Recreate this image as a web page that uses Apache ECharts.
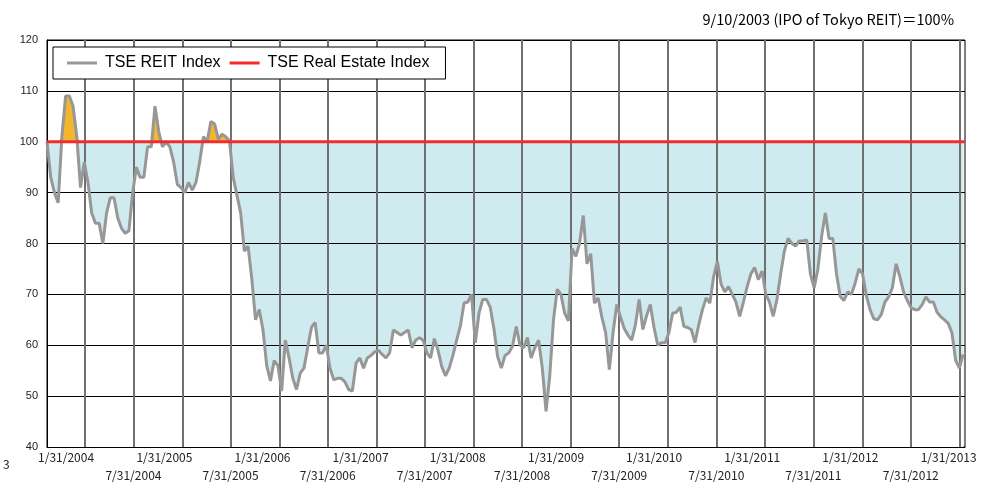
<!DOCTYPE html>
<html><head><meta charset="utf-8">
<script src="https://cdn.jsdelivr.net/npm/echarts@6/dist/echarts.min.js"></script>
<style>html,body{margin:0;padding:0;background:#fff}#c{width:1000px;height:483px}</style>
</head><body><div id="c"></div>
<script>
// IPO date (index base = 100) and sampling step of the series
const startDate = [2003, 9, 10];
const endDate = [2013, 2, 20];
const stepDays = 14;

// TSE REIT Index, fortnightly samples (9/10/2003 = 100)
const reitIndex = [
  100, 93, 90, 88, 101, 109, 109, 107, 101, 91,
  96, 92, 86, 84, 84, 80, 86, 89, 89, 85,
  83, 82, 82.5, 90, 95, 93, 93, 99, 99, 107,
  102, 99, 100, 99, 96, 91.6, 91, 90, 92, 90.5,
  92, 96, 101, 100, 104, 103.5, 100.5, 101.5, 101, 100.2,
  93, 89.5, 86, 78.5, 79.5, 73, 65, 67, 63, 56,
  53, 57, 56, 51, 61, 57.5, 53.5, 51.3, 54.5, 55.5,
  59.5, 63.5, 64.5, 58.5, 58.5, 60, 55.5, 53.2, 53.5, 53.5,
  52.8, 51.3, 51, 56.5, 57.5, 55.5, 57.5, 58, 58.7, 59,
  58.2, 57.5, 58.5, 63, 62.5, 62, 62.5, 63, 59.5, 61,
  61.5, 61, 58.5, 57.5, 61.3, 59, 55.8, 54, 55.5, 58,
  61, 63.8, 68.3, 68.5, 70, 60.5, 66.3, 69, 69, 67.5,
  63.3, 57.8, 55.5, 58, 58.5, 59.8, 63.7, 60, 59.5, 61.5,
  57.5, 59.5, 61, 55.5, 47, 54, 65, 71, 70, 66.3,
  64.8, 79, 77.5, 80, 85.5, 76, 78, 68.3, 69.3, 65.5,
  62.5, 55.2, 62.5, 68, 65.5, 63.3, 62, 61, 64, 69,
  63.1, 65.8, 68, 63.5, 60, 60.5, 60.5, 62.5, 66.3, 66.5,
  67.5, 63.7, 63.5, 63.1, 60.5, 64, 67, 69.3, 68.3, 73.5,
  76.5, 72, 70.5, 71.5, 70, 68.5, 65.7, 68.5, 71.5, 74,
  75.3, 72.9, 74.6, 70, 68.5, 65.7, 69, 74, 78.5, 81,
  80, 79.5, 80.5, 80.5, 80.7, 74, 71.3, 75, 81.4, 86,
  81, 81, 74, 69.6, 68.8, 70.5, 70, 72.2, 75, 74,
  69.8, 67, 65.2, 65, 66, 68.5, 69.5, 71.3, 76, 73.5,
  70.5, 68.8, 67.4, 67, 67, 68, 69.5, 68.5, 68.5, 66.5,
  65.6, 65, 64.3, 62.4, 57, 55.5, 58.2
];
// TSE Real Estate Index (flat at the base level)
const realEstateIndex = [100, 100];

const tickLabels = [
  '1/31/2004', '7/31/2004', '1/31/2005', '7/31/2005', '1/31/2006', '7/31/2006',
  '1/31/2007', '7/31/2007', '1/31/2008', '7/31/2008', '1/31/2009', '7/31/2009',
  '1/31/2010', '7/31/2010', '1/31/2011', '7/31/2011', '1/31/2012', '7/31/2012',
  '1/31/2013'
];
const seriesNames = ['TSE REIT Index', 'TSE Real Estate Index'];
const titleText = '9/10/2003 (IPO of Tokyo REIT)\uFF1D100%';
const baseLevel = 100;

// ---- build (x = days since the IPO date)
const DAY = 86400000;
const t0 = Date.UTC(startDate[0], startDate[1] - 1, startDate[2]);
const dayOf = (y, m, d) => Math.round((Date.UTC(y, m - 1, d) - t0) / DAY);
const xEnd = dayOf(endDate[0], endDate[1], endDate[2]);
const xs = reitIndex.map((v, i) => i * stepDays);
const tickDays = tickLabels.map(s => { const p = s.split('/').map(Number); return dayOf(p[2], p[0], p[1]); });

const pair = arr => arr.map((v, i) => [xs[i], v]);
const aboveTop = pair(reitIndex.map(v => Math.max(v, baseLevel)));
const baseFlat = pair(reitIndex.map(() => baseLevel));
const belowTop = pair(reitIndex.map(v => Math.min(v, baseLevel)));
const fillSeries = (name, data, color) => ({
  type: 'line', name: name, data: data, showSymbol: false, symbol: 'none', silent: true, z: 1,
  lineStyle: { width: 0, opacity: 0 }, areaStyle: { color: color, opacity: 1, origin: 'start' }
});

const rich = { b: { fontFamily: 'Noto Sans CJK JP', fontSize: 12, color: '#222', padding: [18, 0, 0, 0] } };
for (let o = 5; o <= 25; o++) rich['t' + o] = { fontFamily: 'Noto Sans CJK JP', fontSize: 12, color: '#222', padding: [0, 2 * o, 0, 0] };

const chart = echarts.init(document.getElementById('c'), null, { renderer: 'canvas' });
chart.setOption({
  animation: false,
  backgroundColor: '#fff',
  title: {
    text: titleText, right: 41, top: 7,
    textStyle: { fontFamily: 'Noto Sans CJK JP', fontSize: 14.5, fontWeight: 'normal', color: '#000' }
  },
  legend: {
    data: seriesNames, left: 53, top: 47,
    backgroundColor: '#fff', borderColor: '#000', borderWidth: 1,
    padding: [8, 16, 8, 14], itemGap: 9, itemWidth: 30, itemHeight: 3, icon: 'rect',
    selectedMode: false,
    textStyle: { fontFamily: 'Liberation Sans', fontSize: 16, color: '#000', padding: [0, 0, 0, 3] }
  },
  grid: { left: 47, right: 35, top: 40, bottom: 36, show: true, borderColor: '#000', borderWidth: 1, outerBoundsMode: 'none', containLabel: false },
  xAxis: {
    type: 'value', min: 0, max: xEnd, z: 3,
    axisLine: { show: true, onZero: false, lineStyle: { color: '#000', width: 1 } },
    axisTick: { show: false, customValues: tickDays },
    splitLine: { show: true, lineStyle: { color: '#707070', width: 2 } },
    axisLabel: {
      customValues: tickDays, hideOverlap: false, margin: 4, showMinLabel: true, showMaxLabel: true,
      fontFamily: 'Noto Sans CJK JP', fontSize: 12, color: '#222',
      formatter: function (value) {
        const idx = tickDays.indexOf(value);
        if (idx < 0) return '';
        if (idx % 2 === 0) {
          const off = Math.round(19 - 0.85 * (idx / 2));
          return '{t' + off + '|' + tickLabels[idx] + '}';
        }
        return '{b|' + tickLabels[idx] + '}';
      },
      rich: rich
    }
  },
  yAxis: {
    type: 'value', min: 40, max: 120, interval: 10, z: 3,
    axisLine: { show: true, lineStyle: { color: '#000', width: 1 } },
    axisTick: { show: false },
    splitLine: { show: true, lineStyle: { color: '#000', width: 1 } },
    axisLabel: { fontFamily: 'Liberation Sans', fontSize: 11, color: '#222', margin: 9 }
  },
  series: [
    fillSeries('aboveFill', aboveTop, '#F4B62C'),
    fillSeries('baseFill', baseFlat, '#CFEBEF'),
    fillSeries('whiteFill', belowTop, '#FFFFFF'),
    {
      type: 'line', name: seriesNames[0], data: pair(reitIndex), showSymbol: false, symbol: 'none', z: 5,
      color: '#999999', lineStyle: { color: '#979797', width: 3 }
    },
    {
      type: 'line', name: seriesNames[1], data: [[0, realEstateIndex[0]], [xEnd, realEstateIndex[1]]],
      showSymbol: false, symbol: 'none', z: 6,
      color: '#F22C2C', lineStyle: { color: '#F22C2C', width: 3 }
    }
  ],
  graphic: [
    { type: 'text', left: 3, top: 458, style: { text: '3', fontFamily: 'Noto Sans CJK JP', fontSize: 12, fill: '#222' } }
  ]
});
</script>
</body></html>
